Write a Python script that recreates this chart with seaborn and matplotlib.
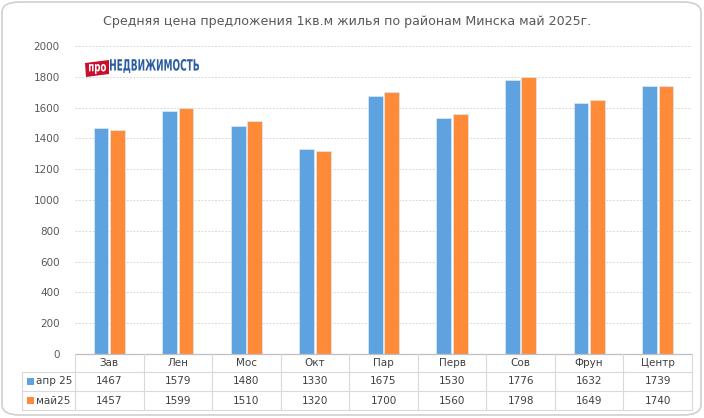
import numpy as np
import pandas as pd
import seaborn as sns
import matplotlib.pyplot as plt
from matplotlib.patches import FancyBboxPatch, Rectangle, PathPatch, Polygon
from matplotlib.lines import Line2D
from matplotlib.textpath import TextPath
from matplotlib.font_manager import FontProperties
from matplotlib.transforms import Affine2D

districts = ["Зав", "Лен", "Мос", "Окт", "Пар", "Перв", "Сов", "Фрун", "Центр"]
apr25 = [1467, 1579, 1480, 1330, 1675, 1530, 1776, 1632, 1739]
may25 = [1457, 1599, 1510, 1320, 1700, 1560, 1798, 1649, 1740]
series_names = ["апр 25", "май25"]
yticks = [0, 200, 400, 600, 800, 1000, 1200, 1400, 1600, 1800, 2000]
title = "Средняя цена предложения 1кв.м жилья по районам Минска май 2025г."

blue = "#5FA2E0"
orange = "#FF8A38"
grid_c = "#D9D9D9"
text_c = "#595959"

W, H = 704, 418


def fx(px):
    return px / W


def fy(py):
    return 1 - py / H


def text_in_box(fig, s, x0, y0, x1, y1, color, weight="bold", z=5):
    # squeeze a text path into a pixel box (top-left x0,y0 / bottom-right x1,y1)
    tp = TextPath((0, 0), s, size=1, prop=FontProperties(family="DejaVu Sans", weight=weight))
    ext = tp.get_extents()
    sx = (x1 - x0) / ext.width / W
    sy = (y1 - y0) / ext.height / H
    tr = Affine2D().translate(-ext.x0, -ext.y0).scale(sx, sy).translate(fx(x0), fy(y1))
    fig.patches.append(PathPatch(tr.transform_path(tp), transform=fig.transFigure,
                                 facecolor=color, edgecolor="none", zorder=z))


df = pd.DataFrame({
    "district": districts * 2,
    "price": apr25 + may25,
    "month": [series_names[0]] * len(districts) + [series_names[1]] * len(districts),
})

sns.set_style("white")
plt.rcParams["font.family"] = ["DejaVu Sans"]

fig = plt.figure(figsize=(W / 100, H / 100), dpi=100)
fig.patch.set_facecolor("white")

# rounded outer frame
frame = FancyBboxPatch((fx(2), fy(415)), fx(699), fy(2) - fy(415), boxstyle="round,pad=0,rounding_size=0.025",
                       transform=fig.transFigure, facecolor="white", edgecolor="#D0D0D0", lw=1.2, zorder=-5)
fig.patches.append(frame)

ax_l, ax_r, ax_t, ax_b = 75, 692, 46, 354
ax = fig.add_axes([fx(ax_l), fy(ax_b), fx(ax_r - ax_l), fy(ax_t) - fy(ax_b)])
ax.set_facecolor("none")

sns.barplot(data=df, x="district", y="price", hue="month", palette=[blue, orange], saturation=1,
            width=0.48, gap=0.1, ax=ax, legend=False, edgecolor="#DCEAF7", linewidth=0.5, zorder=3)

ax.set_xlim(-0.5, len(districts) - 0.5)
ax.set_ylim(0, 2000)
ax.set_yticks(yticks)
ax.set_yticklabels([str(v) for v in yticks], fontsize=7.5, color=text_c)
ax.tick_params(axis="y", length=0, pad=11)
ax.set_xticks([])
ax.set_xlabel("")
ax.set_ylabel("")
for s in ax.spines.values():
    s.set_visible(False)
ax.yaxis.grid(True, color=grid_c, linestyle=(0, (2, 1.5)), linewidth=0.7, zorder=0)
ax.set_axisbelow(True)

fig.text(fx(347), fy(21), title, ha="center", va="center", fontsize=9.1, color=text_c)

# logo
badge = Polygon([(fx(85), fy(63)), (fx(109), fy(60)), (fx(109), fy(74)), (fx(86), fy(77))],
                closed=True, transform=fig.transFigure, facecolor="#C8102E", edgecolor="none", zorder=4)
fig.patches.append(badge)
text_in_box(fig, "про", 89, 64, 106, 74, "white", z=6)
text_in_box(fig, "НЕДВИЖИМОСТЬ", 110, 59, 199, 73, "#2B5C9E")

# data table
col_w = (ax_r - ax_l) / len(districts)
rows_y = [354, 372, 391, 410]
lc = "#D9D9D9"
fig.add_artist(Line2D([fx(ax_l), fx(ax_r)], [fy(354), fy(354)], color="#BFBFBF", lw=0.9,
                      transform=fig.transFigure))
for yy in rows_y[1:]:
    fig.add_artist(Line2D([fx(22), fx(ax_r)], [fy(yy), fy(yy)], color=lc, lw=0.8,
                          transform=fig.transFigure))
for i in range(len(districts) + 1):
    xx = ax_l + i * col_w
    fig.add_artist(Line2D([fx(xx), fx(xx)], [fy(354), fy(410)], color=lc, lw=0.8,
                          transform=fig.transFigure))
fig.add_artist(Line2D([fx(22), fx(22)], [fy(372), fy(410)], color=lc, lw=0.8,
                      transform=fig.transFigure))

for i, d in enumerate(districts):
    cx = ax_l + (i + 0.5) * col_w
    fig.text(fx(cx), fy(363), d, ha="center", va="center", fontsize=7.5, color="#404040")
    fig.text(fx(cx), fy(381.5), str(apr25[i]), ha="center", va="center", fontsize=7.5, color="#404040")
    fig.text(fx(cx), fy(400.5), str(may25[i]), ha="center", va="center", fontsize=7.5, color="#404040")

for name, col, yy in zip(series_names, [blue, orange], [381.5, 400.5]):
    fig.patches.append(Rectangle((fx(27), fy(yy + 3.5)), fx(7), fy(yy - 3.5) - fy(yy + 3.5),
                                 transform=fig.transFigure, facecolor=col, edgecolor="none"))
    fig.text(fx(36), fy(yy), name, ha="left", va="center", fontsize=7.5, color="#404040")

fig.savefig("out.png", dpi=100)
